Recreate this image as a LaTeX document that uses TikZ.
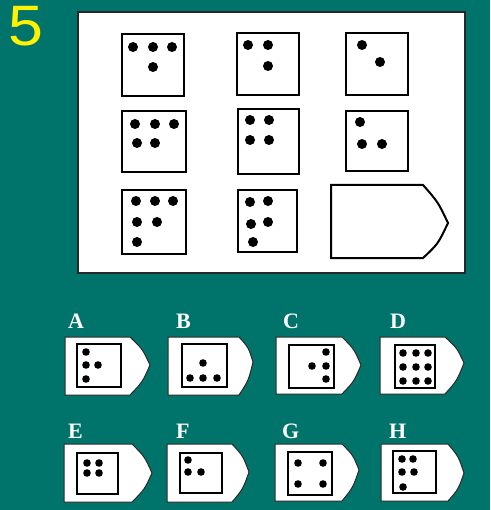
\documentclass[tikz,border=0pt]{standalone}
\usepackage{fontspec}
\newfontfamily\labfont{Liberation Serif}
\newfontfamily\numfont{Liberation Sans}
\definecolor{bgteal}{RGB}{0,116,106}
\definecolor{edgegrey}{RGB}{40,40,40}
\tikzset{
  diebox/.style={line width=2pt,draw=black,fill=white},
  smallbox/.style={line width=1.6pt,draw=black,fill=white},
  tagshape/.style={line width=1pt,draw=edgegrey,fill=white},
  bigtag/.style={line width=2pt,draw=black,fill=white},
  letterlab/.style={text=white,font=\labfont\bfseries\fontsize{22}{22}\selectfont,anchor=base west,inner sep=0pt},
}
\newcommand\pipset[2]{\foreach \px/\py in {#2} \fill[black] (\px,\py) circle[radius=#1];}
% left, top, bottom, bend x, tip x, tip y
\newcommand\answertag[6]{%
  \draw[tagshape] (#1,#2) -- (#4,#2) .. controls ({0.5*(#4+#5)+2.5},{0.5*(#2+#6)-2}) .. (#5,#6)
     .. controls ({0.5*(#4+#5)+2.5},{0.5*(#3+#6)+2}) .. (#4,#3) -- (#1,#3) -- cycle;}
\begin{document}
\begin{tikzpicture}[x=1pt,y=-1pt]
\fill[bgteal] (0,0) rectangle (490,510);
\useasboundingbox (0,0) rectangle (490,510);
\node[text=yellow,font=\numfont\fontsize{57}{57}\selectfont,inner sep=0pt,xscale=1.1] (num) at (26,26) {5};
% main panel
\draw[fill=white,draw=edgegrey,line width=2pt] (78,12) rectangle (465,273);
% row 1
\draw[diebox] (122,34) rectangle (184,96);
\pipset{5}{133/47,153/47,172/47,153/67}
\draw[diebox] (237,33) rectangle (299,95);
\pipset{5}{248/45,268/45,268/66}
\draw[diebox] (346,33) rectangle (408,95);
\pipset{5}{362/45,380/62}
% row 2
\draw[diebox] (122,111) rectangle (186,172);
\pipset{5}{135/124,155/124,174/124,137/143,155/143}
\draw[diebox] (238,109) rectangle (299,174);
\pipset{5}{250/120,269/120,250/140,269/140}
\draw[diebox] (346,111) rectangle (408,171);
\pipset{5}{360/122,362/144,382/144}
% row 3
\draw[diebox] (122,190) rectangle (186,254);
\pipset{5}{136/201,155/201,173/201,137/222,157/222,137/242}
\draw[diebox] (238,190) rectangle (297,252);
\pipset{5}{250/202,268/201,251/224,268/222,253/242}
\draw[bigtag] (331,185) -- (423,185) .. controls (438,202) .. (448,223)
   .. controls (438,244) .. (423,258) -- (331,258) -- cycle;
% answers row 1
\node[letterlab] (la) at (68,328) {A};
\answertag{65}{337}{395}{130}{150}{365}
\draw[smallbox] (77,344) rectangle (121,387);
\pipset{3.8}{86/352,86/365,98/365,86/379}
\node[letterlab] (lb) at (176,328) {B};
\answertag{168}{337}{395}{239}{253}{362}
\draw[smallbox] (182,344) rectangle (227,387);
\pipset{3.8}{203/363,190/378,203/378,217/378}
\node[letterlab] (lc) at (283,328) {C};
\answertag{276}{337}{394}{342}{361}{365}
\draw[smallbox] (289,345) rectangle (334,388);
\pipset{3.8}{326/352,312/366,326/366,326/379}
\node[letterlab] (ld) at (390,328) {D};
\answertag{380}{337}{394}{445}{464}{363}
\draw[smallbox] (395,345) rectangle (435,388);
\pipset{3.8}{403/353,416/353,428/353,403/367,416/367,428/367,403/381,416/381,428/381}
% answers row 2
\node[letterlab] (le) at (68,438) {E};
\answertag{64}{444}{502}{132}{152}{473}
\draw[smallbox] (77,453) rectangle (118,494);
\pipset{3.8}{87/463,99/463,87/473,99/473}
\node[letterlab] (lf) at (176,438) {F};
\answertag{167}{444}{502}{232}{249}{472}
\draw[smallbox] (180,453) rectangle (222,493);
\pipset{3.8}{188/460,188/472,201/472}
\node[letterlab] (lg) at (282,438) {G};
\answertag{275}{444}{501}{342}{359}{470}
\draw[smallbox] (288,452) rectangle (332,495);
\pipset{3.8}{298/463,323/463,298/484,323/484}
\node[letterlab] (lh) at (389,438) {H};
\answertag{381}{444}{501}{448}{464}{473}
\draw[smallbox] (393,451) rectangle (436,493);
\pipset{3.8}{402/459,413/459,402/472,414/472,403/487}
\end{tikzpicture}
\end{document}
